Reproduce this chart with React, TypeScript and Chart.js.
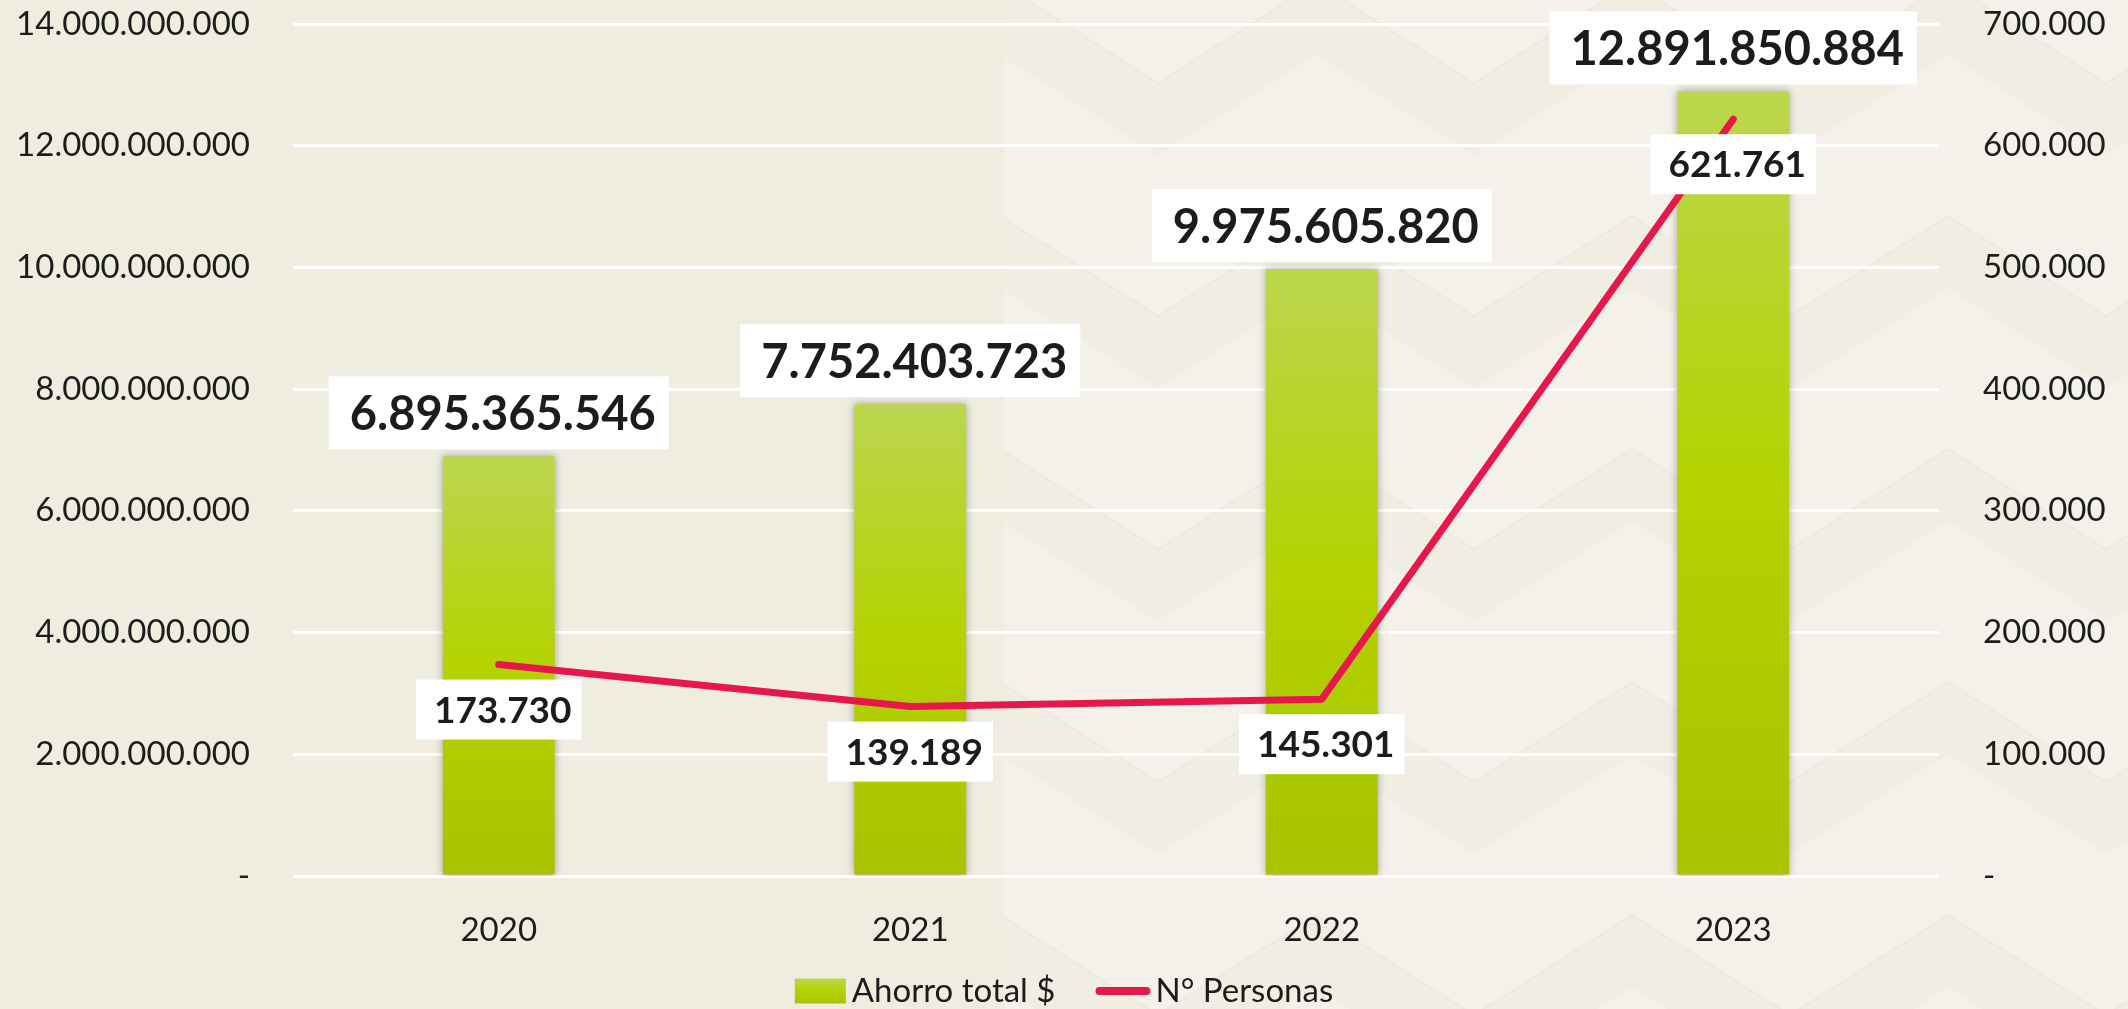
import React, { useEffect, useRef } from "react";
import { Chart, registerables } from "chart.js";

Chart.register(...registerables);

// ---- data ----
const categories = ["2020", "2021", "2022", "2023"];
const seriesNames = ["Ahorro total $", "N° Personas"];
const ahorroTotal = [6895365546, 7752403723, 9975605820, 12891850884];
const personas = [173730, 139189, 145301, 621761];
const leftAxisMax = 14000000000;
const leftAxisStep = 2000000000;
const rightAxisMax = 700000;
const rightAxisStep = 100000;

// ---- styles ----
const FONT = 'Lato, "Open Sans", "DejaVu Sans", sans-serif';
const TEXT_COLOR = "#1c1c1c";
const LINE_COLOR = "#E8174B";
const W = 2128;
const H = 1009;

function fmt(n: number): string {
  if (n === 0) return "-";
  return Math.round(n)
    .toString()
    .replace(/\B(?=(\d{3})+(?!\d))/g, ".");
}

function barGradient(ctx: CanvasRenderingContext2D, top: number, bottom: number) {
  const g = ctx.createLinearGradient(0, top, 0, bottom);
  g.addColorStop(0, "#BCD64E");
  g.addColorStop(0.5, "#B4D300");
  g.addColorStop(1, "#A8C300");
  return g;
}

const backgroundPlugin = {
  id: "bgPattern",
  beforeDraw(chart: any) {
    const ctx = chart.ctx as CanvasRenderingContext2D;
    ctx.save();
    ctx.fillStyle = "#EFECE0";
    ctx.fillRect(0, 0, chart.width, chart.height);
    // decorative chevron texture on the right side
    const x0 = 1004;
    ctx.beginPath();
    ctx.rect(x0, 0, chart.width - x0, chart.height);
    ctx.clip();
    ctx.fillStyle = "#F3F1E9";
    ctx.fillRect(x0, 0, chart.width - x0, chart.height);
    const period = 316;
    const half = period / 2;
    const slope = 0.633;
    const xv = 1158;
    const zig = (x: number, base: number) => {
      const u = (((x - xv) % period) + period) % period;
      const d = Math.min(u, period - u);
      return base - d * slope;
    };
    const startK = Math.floor((x0 - xv) / half) - 1;
    const pts: number[] = [];
    for (let k = startK; xv + k * half <= chart.width + half; k++) pts.push(xv + k * half);
    ctx.fillStyle = "#F0EDE3";
    for (let n = -2; n < 8; n++) {
      const a = 83 + 233 * n;
      const b = a + 72;
      ctx.beginPath();
      ctx.moveTo(pts[0], zig(pts[0], a));
      for (const x of pts) ctx.lineTo(x, zig(x, a));
      for (let i = pts.length - 1; i >= 0; i--) ctx.lineTo(pts[i], zig(pts[i], b));
      ctx.closePath();
      ctx.fill();
    }
    ctx.strokeStyle = "rgba(160,150,120,0.06)";
    ctx.lineWidth = 2;
    for (let n = -2; n < 8; n++) {
      const base = 83 + 233 * n;
      ctx.beginPath();
      pts.forEach((x, i) => {
        if (i === 0) ctx.moveTo(x, zig(x, base));
        else ctx.lineTo(x, zig(x, base));
      });
      ctx.stroke();
    }
    ctx.restore();
  },
};

const shadowPlugin = {
  id: "barShadow",
  beforeDatasetDraw(chart: any, args: any) {
    if (args.index === 0) {
      const ctx = chart.ctx as CanvasRenderingContext2D;
      ctx.save();
      ctx.shadowColor = "rgba(70,70,70,0.45)";
      ctx.shadowBlur = 8;
      ctx.shadowOffsetX = 0;
      ctx.shadowOffsetY = 0;
    }
  },
  afterDatasetDraw(chart: any, args: any) {
    if (args.index === 0) chart.ctx.restore();
  },
};

function drawLabel(
  ctx: CanvasRenderingContext2D,
  text: string,
  cx: number,
  cy: number,
  size: number,
  padX: number,
  boxH: number
) {
  ctx.font = `bold ${size}px ${FONT}`;
  const m = ctx.measureText(text);
  const w = m.width + padX * 2;
  ctx.fillStyle = "#FFFFFF";
  ctx.fillRect(cx - w / 2, cy - boxH / 2, w, boxH);
  ctx.fillStyle = TEXT_COLOR;
  ctx.textAlign = "center";
  ctx.textBaseline = "alphabetic";
  const asc = m.actualBoundingBoxAscent || size * 0.72;
  const desc = m.actualBoundingBoxDescent || 0;
  ctx.fillText(text, cx + 4, cy + (asc - desc) / 2);
}

const labelsPlugin = {
  id: "valueLabels",
  afterDraw(chart: any) {
    const ctx = chart.ctx as CanvasRenderingContext2D;
    ctx.save();
    const barMeta = chart.getDatasetMeta(0);
    barMeta.data.forEach((el: any, i: number) => {
      const boxH = 73;
      const cy = el.y - 7 - boxH / 2;
      drawLabel(ctx, fmt(ahorroTotal[i]), el.x, cy, 47, 17, boxH);
    });
    const lineMeta = chart.getDatasetMeta(1);
    lineMeta.data.forEach((el: any, i: number) => {
      const boxH = 60;
      const cy = el.y + 15 + boxH / 2;
      drawLabel(ctx, fmt(personas[i]), el.x, cy, 37, 14, boxH);
    });

    // legend
    const legendY = 991;
    ctx.font = `33px ${FONT}`;
    const t1 = seriesNames[0];
    const t2 = seriesNames[1];
    const w1 = ctx.measureText(t1).width;
    const w2 = ctx.measureText(t2).width;
    const boxW = 51;
    const boxHh = 25;
    const lineW = 55;
    const total = boxW + 6 + w1 + 40 + lineW + 5 + w2;
    let x = chart.width / 2 - total / 2;
    ctx.fillStyle = barGradient(ctx, legendY - boxHh / 2, legendY + boxHh / 2);
    ctx.fillRect(x, legendY - boxHh / 2, boxW, boxHh);
    x += boxW + 6;
    ctx.fillStyle = TEXT_COLOR;
    ctx.textAlign = "left";
    ctx.textBaseline = "middle";
    ctx.fillText(t1, x, legendY);
    x += w1 + 40;
    ctx.strokeStyle = LINE_COLOR;
    ctx.lineWidth = 8;
    ctx.lineCap = "round";
    ctx.beginPath();
    ctx.moveTo(x + 4, legendY);
    ctx.lineTo(x + lineW - 4, legendY);
    ctx.stroke();
    x += lineW + 5;
    ctx.fillText(t2, x, legendY);
    ctx.restore();
  },
};

export default function App() {
  const canvasRef = useRef<HTMLCanvasElement | null>(null);

  useEffect(() => {
    const canvas = canvasRef.current;
    if (!canvas) return;
    const tickFont = { family: FONT, size: 33 };
    const chart = new Chart(canvas, {
      data: {
        labels: categories,
        datasets: [
          {
            type: "bar",
            label: seriesNames[0],
            data: ahorroTotal,
            yAxisID: "y",
            order: 2,
            barPercentage: 0.272,
            categoryPercentage: 1,
            backgroundColor: (c: any) => {
              const ch = c.chart;
              if (!ch.chartArea || c.type !== "data") return "#B4D300";
              const ys = ch.scales.y;
              const top = ys.getPixelForValue(ahorroTotal[c.dataIndex]);
              const bottom = ys.getPixelForValue(0);
              return barGradient(ch.ctx, top, bottom);
            },
            borderWidth: 0,
          } as any,
          {
            type: "line",
            label: seriesNames[1],
            data: personas,
            yAxisID: "y1",
            order: 1,
            borderColor: LINE_COLOR,
            backgroundColor: LINE_COLOR,
            borderWidth: 7,
            pointRadius: 0,
            pointHoverRadius: 0,
            tension: 0,
            borderCapStyle: "round",
            borderJoinStyle: "round",
            fill: false,
          } as any,
        ],
      },
      options: {
        animation: false,
        responsive: true,
        maintainAspectRatio: false,
        layout: { padding: { top: 24, left: 0, right: 0, bottom: 0 } },
        plugins: {
          legend: { display: false },
          tooltip: { enabled: false },
        },
        scales: {
          x: {
            grid: { display: false },
            border: { display: false },
            ticks: { font: tickFont, color: TEXT_COLOR, padding: 27 },
            afterFit: (s: any) => {
              s.height = 133;
              s.paddingLeft = 0;
              s.paddingRight = 0;
            },
          },
          y: {
            type: "linear",
            position: "left",
            min: 0,
            max: leftAxisMax,
            ticks: {
              stepSize: leftAxisStep,
              callback: (v: any) => fmt(Number(v)),
              font: tickFont,
              color: TEXT_COLOR,
              padding: 43,
            },
            grid: { color: "#FFFFFF", lineWidth: 3, drawTicks: false },
            border: { display: false },
            afterFit: (s: any) => {
              s.width = 293;
              s.paddingTop = 0;
              s.paddingBottom = 0;
            },
          },
          y1: {
            type: "linear",
            position: "right",
            min: 0,
            max: rightAxisMax,
            ticks: {
              stepSize: rightAxisStep,
              callback: (v: any) => fmt(Number(v)),
              font: tickFont,
              color: TEXT_COLOR,
              padding: 44,
            },
            grid: { display: false, drawTicks: false },
            border: { display: false },
            afterFit: (s: any) => {
              s.width = 189;
              s.paddingTop = 0;
              s.paddingBottom = 0;
            },
          },
        },
      } as any,
      plugins: [backgroundPlugin, shadowPlugin, labelsPlugin],
    });
    return () => chart.destroy();
  }, []);

  return (
    <div style={{ position: "absolute", left: 0, top: 0, width: W, height: H }}>
      <canvas ref={canvasRef} />
    </div>
  );
}
